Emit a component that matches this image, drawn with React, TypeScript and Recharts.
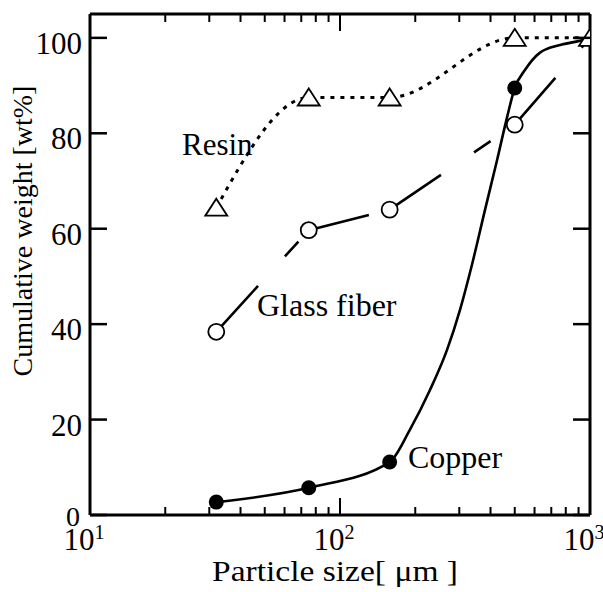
import { ComposedChart, Line, Scatter, XAxis, YAxis } from 'recharts';

const FONT = '"Liberation Serif", "Times New Roman", serif';

// x positions are particle sizes in µm, y is cumulative weight in wt%
const resinX = [32, 75, 158, 500, 1000];
const resinY = [64.4, 87.5, 87.5, 100, 100];

const glassX = [32, 75, 158, 500];
const glassY = [38.4, 59.7, 64, 81.8];
// the glass fiber line runs on to the last resin point
const glassLineX = [32, 75, 158, 500, 1000];
const glassLineY = [38.4, 59.7, 64, 81.8, 100];

const copperX = [32, 75, 158, 500];
const copperY = [2.7, 5.7, 11.1, 89.5];
// copper curve
const copperCurveX = [32, 75, 158, 190, 229, 268, 302, 337, 380, 425, 466, 500, 550, 631, 759, 912, 1000];
const copperCurveY = [2.7, 5.7, 11.1, 17.8, 26.2, 34.6, 43, 52.4, 63.9, 74.4, 83.4, 89.5, 93.3, 96.9, 98.5, 99.4, 100];

const xTicks = [10, 20, 30, 40, 50, 60, 70, 80, 90, 100, 200, 300, 400, 500, 600, 700, 800, 900, 1000];
const xMajor = [10, 100, 1000];
const xExp: Record<number, string> = { 10: '1', 100: '2', 1000: '3' };
const yTicks = [0, 20, 40, 60, 80, 100];

const zip = (xs: number[], ys: number[]) => xs.map((x, i) => ({ x, y: ys[i] }));

const resin = zip(resinX, resinY);
const glass = zip(glassX, glassY);
const glassLine = zip(glassLineX, glassLineY);
const copper = zip(copperX, copperY);
const copperCurve = zip(copperCurveX, copperCurveY);

const BottomTick = ({ x, y, payload }: any) => {
  const v = payload.value;
  const major = xMajor.includes(v);
  return (
    <g>
      <line x1={x} y1={y} x2={x} y2={y - (major ? 17 : 8)} stroke="#000" strokeWidth={2} />
      {major && (
        <text x={x - 6} y={y + 35} textAnchor="middle" fontFamily={FONT} fontSize={31} fill="#000">
          10
          <tspan dy={-11} fontSize={20}>{xExp[v]}</tspan>
        </text>
      )}
    </g>
  );
};

const TopTick = ({ x, y, payload }: any) => {
  const major = xMajor.includes(payload.value);
  return <line x1={x} y1={y} x2={x} y2={y + (major ? 17 : 8)} stroke="#000" strokeWidth={2} />;
};

const LeftTick = ({ x, y, payload }: any) => (
  <g>
    <line x1={x} y1={y} x2={x + 17} y2={y} stroke="#000" strokeWidth={2.5} />
    <text
      x={payload.value === 0 ? x - 10 : x - 8}
      y={y + (payload.value === 0 ? 11 : 16)}
      textAnchor="end"
      fontFamily={FONT}
      fontSize={payload.value === 0 ? 28 : 31}
      fill="#000"
    >
      {payload.value}
    </text>
  </g>
);

const RightTick = ({ x, y }: any) => (
  <line x1={x} y1={y} x2={x - 17} y2={y} stroke="#000" strokeWidth={2.5} />
);

const Triangle = ({ cx, cy }: any) => (
  <path
    d={`M${cx},${cy - 9}L${cx + 11},${cy + 8}L${cx - 11},${cy + 8}Z`}
    fill="#fff"
    stroke="#000"
    strokeWidth={1.8}
  />
);

const OpenCircle = ({ cx, cy }: any) => (
  <circle cx={cx} cy={cy} r={8} fill="#fff" stroke="#000" strokeWidth={1.8} />
);

const FilledCircle = ({ cx, cy }: any) => <circle cx={cx} cy={cy} r={7.5} fill="#000" />;

const axisLine = { stroke: '#000', strokeWidth: 3 };

export default function App() {
  const glassSegments = glassLine.slice(0, -1).map((p, i) => [p, glassLine[i + 1]]);

  return (
    <div style={{ position: 'absolute', left: 0, top: 0, background: '#fff' }}>
      <ComposedChart
        width={603}
        height={592}
        margin={{ top: 13, right: 12, bottom: 76, left: 89 }}
      >
        <XAxis
          dataKey="x"
          type="number"
          scale="log"
          domain={[10, 1000]}
          allowDataOverflow
          ticks={xTicks}
          interval={0}
          height={1}
          tickSize={0}
          tickMargin={0}
          tickLine={false}
          tick={<BottomTick />}
          axisLine={axisLine}
        />
        <XAxis
          xAxisId="top"
          orientation="top"
          dataKey="x"
          type="number"
          scale="log"
          domain={[10, 1000]}
          allowDataOverflow
          ticks={xTicks}
          interval={0}
          height={1}
          tickSize={0}
          tickMargin={0}
          tickLine={false}
          tick={<TopTick />}
          axisLine={axisLine}
        />
        <YAxis
          type="number"
          domain={[0, 105]}
          allowDataOverflow
          ticks={yTicks}
          interval={0}
          width={1}
          tickSize={0}
          tickMargin={0}
          tickLine={false}
          tick={<LeftTick />}
          axisLine={axisLine}
        />
        <YAxis
          yAxisId="right"
          orientation="right"
          type="number"
          domain={[0, 105]}
          allowDataOverflow
          ticks={yTicks}
          interval={0}
          width={1}
          tickSize={0}
          tickMargin={0}
          tickLine={false}
          tick={<RightTick />}
          axisLine={axisLine}
        />

        <Line
          data={copperCurve}
          dataKey="y"
          type="monotone"
          stroke="#000"
          strokeWidth={2.6}
          dot={false}
          isAnimationActive={false}
        />
        {glassSegments.map((seg, i) => (
          <Line
            key={`g${i}`}
            data={seg}
            dataKey="y"
            type="linear"
            stroke="#000"
            strokeWidth={2.6}
            strokeDasharray="62 40 20 300"
            dot={false}
            isAnimationActive={false}
          />
        ))}
        <Line
          data={resin}
          dataKey="y"
          type="monotone"
          stroke="#000"
          strokeWidth={3}
          strokeDasharray="4 6"
          dot={false}
          isAnimationActive={false}
        />

        <Scatter data={resin} dataKey="y" shape={<Triangle />} isAnimationActive={false} />
        <Scatter data={glass} dataKey="y" shape={<OpenCircle />} isAnimationActive={false} />
        <Scatter data={copper} dataKey="y" shape={<FilledCircle />} isAnimationActive={false} />

        <g fontFamily={FONT} fill="#000">
          <text x={182} y={155} fontSize={31}>Resin</text>
          <text x={257} y={316} fontSize={32}>Glass fiber</text>
          <text x={408} y={468} fontSize={32}>Copper</text>
          <text
            x={212}
            y={581}
            fontSize={29}
            textLength={246}
            lengthAdjust="spacingAndGlyphs"
          >
            Particle size[ μm  ]
          </text>
          <text
            x={32}
            y={231}
            fontSize={28}
            textAnchor="middle"
            transform="rotate(-90 32 231)"
          >
            Cumulative weight [wt%]
          </text>
        </g>
      </ComposedChart>
    </div>
  );
}
